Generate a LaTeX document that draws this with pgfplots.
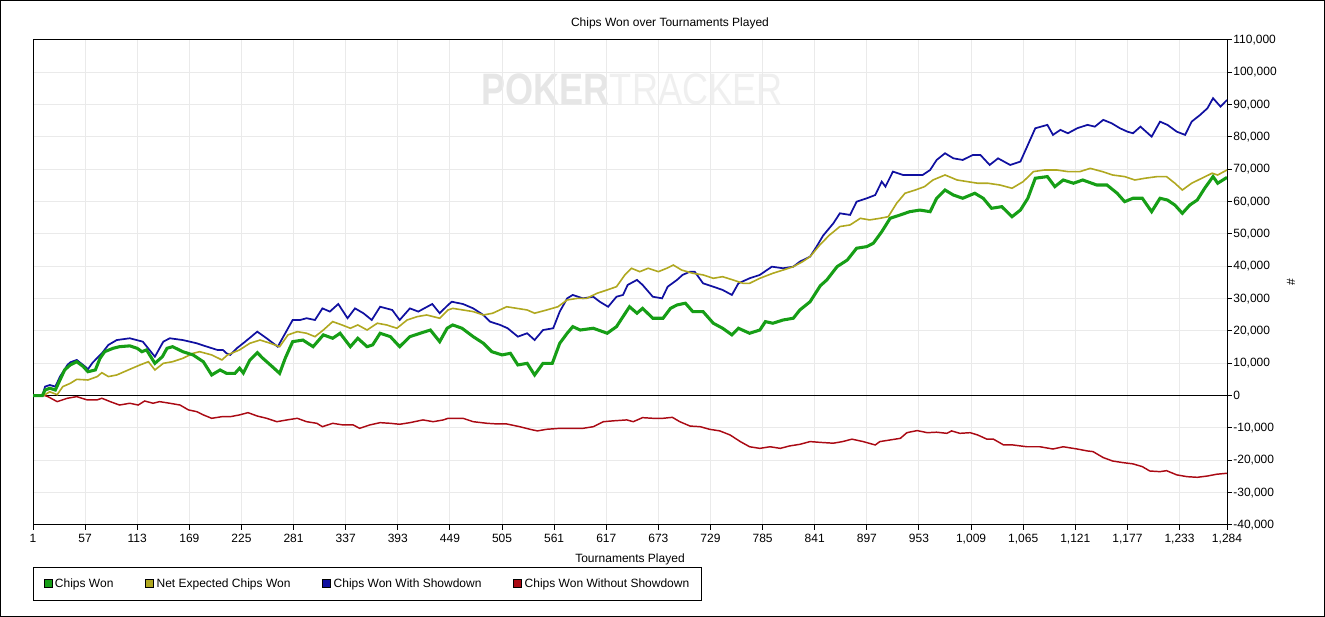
\documentclass[border=0pt]{standalone}
\usepackage{fontspec}
\setmainfont{Liberation Sans}
\usepackage{pgfplots}
\usepackage{pgfplotstable}
\pgfplotsset{compat=1.18}
\definecolor{cgreen}{RGB}{22,158,22}
\definecolor{cyellow}{RGB}{176,168,32}
\definecolor{cblue}{RGB}{16,16,160}
\definecolor{cred}{RGB}{170,10,20}
\definecolor{gridgray}{RGB}{234,234,234}

\pgfplotstableread{
x y
1 0
11 0
14 1750
19 2300
25 1750
30 4850
35 7950
41 9500
48 10500
55 9000
60 7400
68 7950
73 11550
78 13600
87 14650
94 15150
105 15400
113 14650
118 13600
123 14150
132 10000
140 12050
145 14650
151 15150
162 13600
173 12600
184 10500
193 6400
202 7950
209 6900
218 6900
223 8500
227 7000
234 11000
242 13300
248 11550
258 9000
266 6900
272 11550
280 16700
291 17200
302 15150
313 18800
323 17750
331 19300
342 15150
350 17750
360 15150
366 15700
374 19300
385 18250
395 15150
406 18250
417 19300
428 20300
438 16700
446 20850
452 21870
462 20850
474 18250
485 16200
494 13600
505 12600
514 13100
522 9500
532 10000
540 6400
549 10000
559 10000
567 16200
575 19300
581 21350
589 20300
603 20850
618 19300
628 21350
635 24450
642 27500
650 25500
656 27000
667 23950
678 23950
686 27000
693 28050
702 28600
710 26000
721 26000
732 22400
742 20850
752 18800
759 20850
771 19300
782 20300
788 22900
796 22400
807 23400
818 23950
825 26500
836 29050
847 34000
854 35800
865 39900
876 41950
886 45600
897 46100
904 47150
913 50700
922 54850
933 55900
943 56900
954 57400
965 56900
972 61050
981 63600
990 62050
1000 61050
1013 62600
1022 61050
1031 57950
1042 58450
1053 55350
1062 57400
1070 61050
1078 67250
1091 67750
1099 64650
1108 66700
1119 65700
1129 66700
1144 65150
1155 65150
1166 62600
1174 60000
1183 61050
1193 61050
1203 56900
1212 61050
1220 60500
1228 58950
1236 56400
1244 58950
1252 60500
1260 64150
1269 67750
1274 65700
1284 67500
}\tgreen

\pgfplotstableread{
x y
1 0
11 0
14 2800
19 3300
25 2800
30 5900
38 9500
41 10300
48 11050
57 9000
60 8150
65 10200
75 13100
82 15700
91 17200
105 17750
119 16700
132 12050
141 16700
148 17750
162 17200
177 16200
188 15150
199 14150
205 14150
209 13100
213 12600
220 14650
229 16700
242 19800
252 17750
264 15150
274 20300
280 23400
288 23400
295 23950
304 23400
312 27000
320 26000
329 28350
339 23950
347 27000
356 25500
365 23400
374 27500
387 26500
395 23400
406 27000
415 26000
430 28350
438 25500
447 28050
451 29050
463 28350
474 27000
485 24950
492 22900
503 21870
511 20850
522 18250
532 19300
540 17200
549 20300
560 20850
567 26000
575 30100
581 31150
592 30100
603 30600
610 29050
619 27500
628 30600
635 31150
640 34250
650 35800
656 34250
667 30600
677 30100
683 33700
693 35800
699 37350
707 38350
712 38350
721 34750
732 33700
742 32700
752 31150
759 34750
771 36300
782 37350
795 39900
807 39400
818 39900
825 41450
836 43000
843 46100
850 49500
861 53300
868 56400
879 55900
886 60000
897 61050
906 62050
913 66200
917 64650
925 69300
936 68250
947 68250
957 68250
965 69800
972 72900
981 74970
990 73400
1000 72900
1011 74450
1019 74450
1029 71350
1038 73400
1051 71350
1062 72400
1070 77550
1078 82700
1091 83750
1097 80650
1105 82200
1113 81150
1123 82700
1134 83750
1142 83200
1151 85300
1160 84250
1169 82700
1177 81650
1183 81150
1191 83200
1203 80100
1212 84750
1220 83750
1230 81650
1239 80650
1246 84750
1255 86800
1263 88900
1269 92000
1277 89400
1284 91450
}\tblue

\pgfplotstableread{
x y
1 0
12 0
19 1200
27 300
33 2800
41 3800
48 5050
60 4850
70 5900
75 7100
82 5900
91 6400
105 8150
116 9500
125 10500
132 7950
141 10000
151 10500
162 11550
173 13100
180 13600
193 12600
204 11050
210 12600
223 14150
234 16200
245 17200
256 16200
266 15150
275 18800
285 19800
295 19300
304 18250
313 20300
323 22900
333 21870
342 20850
350 21870
360 20300
371 22400
381 21870
392 20850
403 23400
414 24450
424 24950
438 23950
447 26500
452 27000
463 26500
474 26000
485 24950
495 25500
510 27500
521 27000
532 26500
540 25500
553 26500
565 27500
575 29600
586 30100
596 30100
607 31650
618 32700
628 33700
637 37350
644 39400
653 38350
662 39400
673 38350
682 39400
689 40400
698 38850
710 37850
721 37350
732 36300
742 36800
753 35800
764 34750
771 34750
782 36300
796 37850
807 38850
818 39900
828 41450
836 43000
847 46800
857 49700
868 52300
879 52800
890 54850
900 54350
911 54850
920 55350
929 59500
938 62600
949 63600
959 64650
968 66700
981 68250
994 66700
1005 66200
1016 65700
1027 65700
1040 65150
1053 64150
1065 66200
1076 69300
1088 69800
1101 69800
1113 69300
1126 69300
1137 70300
1150 69300
1161 68250
1174 67750
1185 66700
1196 67250
1209 67750
1219 67750
1228 65700
1236 63600
1246 65700
1257 67250
1268 68800
1274 68250
1284 69800
}\tyellow

\pgfplotstableread{
x y
1 0
14 0
17 -300
27 -1850
38 -800
48 -300
59 -1300
70 -1300
75 -800
84 -1850
94 -2900
105 -2350
114 -2900
121 -1650
130 -2350
137 -1850
148 -2350
159 -2900
168 -4400
177 -4950
184 -5950
193 -7000
204 -6500
213 -6500
223 -5950
232 -5250
242 -6300
252 -7000
263 -8050
274 -7500
285 -7000
295 -8050
306 -8550
312 -9600
323 -8550
334 -9050
345 -9050
352 -10100
363 -9050
374 -8350
385 -8550
395 -8850
406 -8350
420 -7500
431 -8050
442 -7500
447 -7000
452 -7000
463 -7000
474 -8050
489 -8550
500 -8750
510 -8750
524 -9600
535 -10400
543 -10900
553 -10400
567 -10100
581 -10100
592 -10100
603 -9600
614 -8050
624 -7800
639 -7500
646 -8050
656 -6800
667 -7000
678 -7000
688 -6700
696 -8050
707 -9400
718 -9600
728 -10400
739 -10900
750 -12150
761 -14200
771 -15800
782 -16300
793 -15800
804 -16300
814 -15550
825 -15050
836 -14200
847 -14450
861 -14700
871 -14200
881 -13450
893 -14200
906 -15250
911 -14200
922 -13700
933 -13200
940 -11450
951 -10800
962 -11450
972 -11300
983 -11650
988 -10900
997 -11650
1008 -11450
1016 -12150
1026 -13450
1033 -13450
1044 -15250
1054 -15250
1069 -15800
1083 -15800
1097 -16500
1108 -15800
1123 -16500
1134 -17100
1140 -17300
1151 -19150
1161 -20200
1172 -20700
1183 -21100
1193 -21950
1201 -23300
1212 -23500
1219 -23200
1230 -24500
1241 -25050
1252 -25250
1263 -24850
1273 -24300
1284 -24000
}\tred

\begin{document}
\begin{tikzpicture}
\useasboundingbox (0,0) rectangle (993.75pt,462.75pt);
\draw[line width=0.75pt] (0.375pt,0.375pt) rectangle (993.375pt,462.375pt);
% watermark
\node[xscale=0.82, inner sep=0] at (474pt,396pt) {\fontsize{33}{33}\selectfont\textcolor[RGB]{230,230,230}{\bfseries POKER}\textcolor[RGB]{239,239,239}{TRACKER}};
\begin{axis}[
  at={(24.75pt,69pt)}, anchor=south west,
  scale only axis, width=895.5pt, height=363.75pt,
  xmin=1, xmax=1284, ymin=-40000, ymax=110000,
  xtick={1,57,113,169,225,281,337,393,449,505,561,617,673,729,785,841,897,953,1009,1065,1121,1177,1233,1284},
  xticklabels={1,57,113,169,225,281,337,393,449,505,561,617,673,729,785,841,897,953,{1,009},{1,065},{1,121},{1,177},{1,233},{1,284}},
  ytick={-40000,-30000,-20000,-10000,0,10000,20000,30000,40000,50000,60000,70000,80000,90000,100000,110000},
  yticklabels={{-40,000},{-30,000},{-20,000},{-10,000},0,{10,000},{20,000},{30,000},{40,000},{50,000},{60,000},{70,000},{80,000},{90,000},{100,000},{110,000}},
  xtick pos=left, ytick pos=right, yticklabel pos=right,
  tick align=outside,
  major tick length=3.5pt,
  grid=major,
  major grid style={draw=gridgray, line width=0.75pt},
  axis line style={line width=0.75pt},
  every tick/.style={black, line width=0.75pt},
  scaled ticks=false,
  every tick label/.append style={font=\fontsize{9}{10}\selectfont},
  yticklabel style={xshift=-2.25pt},
  title={Chips Won over Tournaments Played},
  title style={font=\fontsize{9}{10}\selectfont, at={(axis description cs:0.5335,1.0186)}, anchor=center},
  xlabel={Tournaments Played},
  xlabel style={font=\fontsize{9}{10}\selectfont, at={(axis description cs:0.5,-0.0710)}, anchor=center},
  ylabel={\#},
  ylabel style={font=\fontsize{9}{10}\selectfont, at={(axis description cs:1.0536,0.5)}, anchor=center, rotate=0},
  legend columns=4,
  legend cell align=left,
  legend style={at={(axis description cs:0,-0.0866)}, anchor=north west,
    draw=black, line width=0.75pt, font=\fontsize{9}{10}\selectfont,
    inner xsep=7.5pt, inner ysep=6.2pt,
    /tikz/every even column/.append style={column sep=21.8pt}},
]
\addlegendimage{legend image code/.code={\draw[line width=0.6pt, draw=black, fill=cgreen] (-0.75pt,-3pt) rectangle (5.25pt,3pt);}}
\addlegendentry{Chips Won}
\addlegendimage{legend image code/.code={\draw[line width=0.6pt, draw=black, fill=cyellow] (-0.75pt,-3pt) rectangle (5.25pt,3pt);}}
\addlegendentry{Net Expected Chips Won}
\addlegendimage{legend image code/.code={\draw[line width=0.6pt, draw=black, fill=cblue] (-0.75pt,-3pt) rectangle (5.25pt,3pt);}}
\addlegendentry{Chips Won With Showdown}
\addlegendimage{legend image code/.code={\draw[line width=0.6pt, draw=black, fill=cred] (-0.75pt,-3pt) rectangle (5.25pt,3pt);}}
\addlegendentry{Chips Won Without Showdown}
\addplot[black, line width=0.75pt, forget plot] coordinates {(1,0) (1284,0)};
\addplot[cred, line width=1.1pt, forget plot] table[x=x,y=y] {\tred};
\addplot[cblue, line width=1.3pt, forget plot] table[x=x,y=y] {\tblue};
\addplot[cyellow, line width=1.2pt, forget plot] table[x=x,y=y] {\tyellow};
\addplot[cgreen, line width=2.3pt, forget plot] table[x=x,y=y] {\tgreen};
\end{axis}
\end{tikzpicture}
\end{document}
